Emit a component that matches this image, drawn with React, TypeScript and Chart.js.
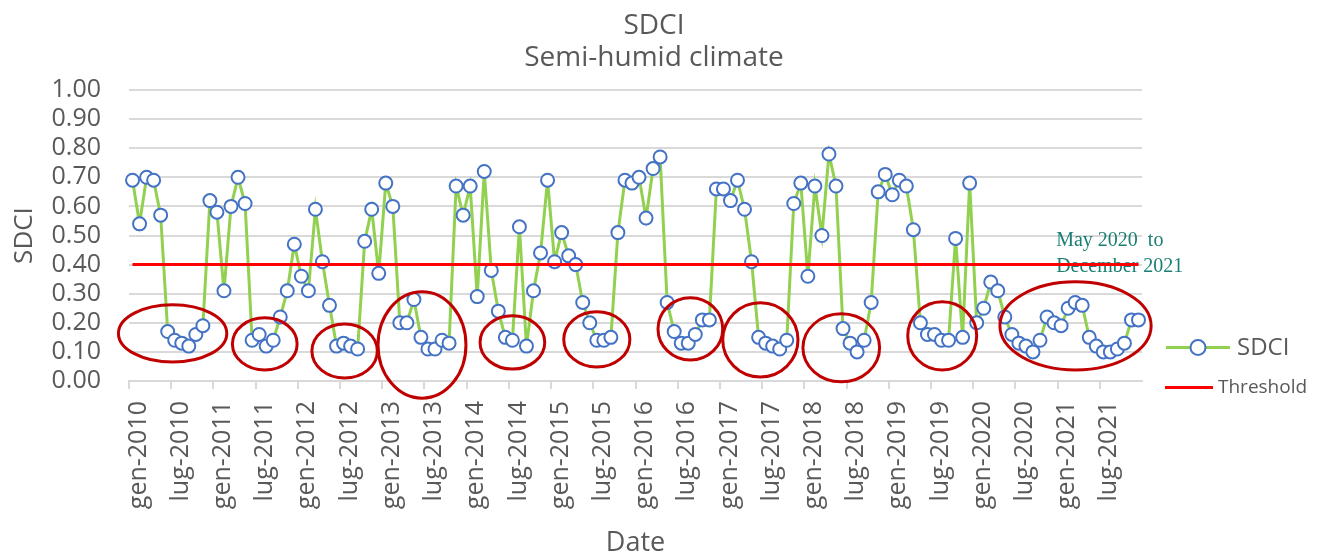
import React, { useEffect, useRef } from 'react';
import { Chart, registerables } from 'chart.js';

Chart.register(...registerables);

const FONT = "'Open Sans', sans-serif";
const TEXT_COLOR = '#595959';

const MONTHS = ['gen', 'feb', 'mar', 'apr', 'mag', 'giu', 'lug', 'ago', 'set', 'ott', 'nov', 'dic'];
const YEARS = [2010, 2011, 2012, 2013, 2014, 2015, 2016, 2017, 2018, 2019, 2020, 2021];
const categories: string[] = YEARS.flatMap((y) => MONTHS.map((m) => `${m}-${y}`));

const sdci2010 = [0.69, 0.54, 0.70, 0.69, 0.57, 0.17, 0.14, 0.13, 0.12, 0.16, 0.19, 0.62];
const sdci2011 = [0.58, 0.31, 0.60, 0.70, 0.61, 0.14, 0.16, 0.12, 0.14, 0.22, 0.31, 0.47];
const sdci2012 = [0.36, 0.31, 0.59, 0.41, 0.26, 0.12, 0.13, 0.12, 0.11, 0.48, 0.59, 0.37];
const sdci2013 = [0.68, 0.60, 0.20, 0.20, 0.28, 0.15, 0.11, 0.11, 0.14, 0.13, 0.67, 0.57];
const sdci2014 = [0.67, 0.29, 0.72, 0.38, 0.24, 0.15, 0.14, 0.53, 0.12, 0.31, 0.44, 0.69];
const sdci2015 = [0.41, 0.51, 0.43, 0.40, 0.27, 0.20, 0.14, 0.14, 0.15, 0.51, 0.69, 0.68];
const sdci2016 = [0.70, 0.56, 0.73, 0.77, 0.27, 0.17, 0.13, 0.13, 0.16, 0.21, 0.21, 0.66];
const sdci2017 = [0.66, 0.62, 0.69, 0.59, 0.41, 0.15, 0.13, 0.12, 0.11, 0.14, 0.61, 0.68];
const sdci2018 = [0.36, 0.67, 0.50, 0.78, 0.67, 0.18, 0.13, 0.10, 0.14, 0.27, 0.65, 0.71];
const sdci2019 = [0.64, 0.69, 0.67, 0.52, 0.20, 0.16, 0.16, 0.14, 0.14, 0.49, 0.15, 0.68];
const sdci2020 = [0.20, 0.25, 0.34, 0.31, 0.22, 0.16, 0.13, 0.12, 0.10, 0.14, 0.22, 0.20];
const sdci2021 = [0.19, 0.25, 0.27, 0.26, 0.15, 0.12, 0.10, 0.10, 0.11, 0.13, 0.21, 0.21];

const sdciValues = [
  ...sdci2010, ...sdci2011, ...sdci2012, ...sdci2013, ...sdci2014, ...sdci2015,
  ...sdci2016, ...sdci2017, ...sdci2018, ...sdci2019, ...sdci2020, ...sdci2021,
];

const THRESHOLD = 0.4;
const thresholdValues = categories.map(() => THRESHOLD);

const titleLines = ['SDCI', 'Semi-humid climate'];

// Highlighted drought periods (category index range, SDCI value range)
const highlightPeriods = [
  { from: -2.0, to: 13.4, low: 0.065, high: 0.262 },
  { from: 14.2, to: 23.4, low: 0.038, high: 0.217 },
  { from: 25.5, to: 34.8, low: 0.010, high: 0.196 },
  { from: 34.9, to: 47.4, low: -0.059, high: 0.307 },
  { from: 49.4, to: 58.6, low: 0.041, high: 0.224 },
  { from: 61.3, to: 70.7, low: 0.048, high: 0.238 },
  { from: 74.7, to: 83.9, low: 0.072, high: 0.286 },
  { from: 83.9, to: 94.6, low: 0.014, high: 0.269 },
  { from: 95.3, to: 106.2, low: -0.003, high: 0.231 },
  { from: 110.2, to: 120.0, low: 0.038, high: 0.272 },
  { from: 123.3, to: 144.8, low: 0.038, high: 0.341 },
];

const noteLines = ['May 2020  to', 'December 2021'];
const noteAnchor = { index: 131.3, value: 0.465 };

const titlePlugin = {
  id: 'twoLineTitle',
  afterDraw(chart: any) {
    const { ctx, width } = chart;
    ctx.save();
    ctx.font = `28px ${FONT}`;
    ctx.fillStyle = TEXT_COLOR;
    ctx.textAlign = 'center';
    ctx.textBaseline = 'middle';
    const cx = width / 2 - 7;
    titleLines.forEach((line, i) => ctx.fillText(line, cx, 26 + i * 32.5));
    ctx.restore();
  },
};

const notePlugin = {
  id: 'noteText',
  beforeDatasetsDraw(chart: any) {
    const { ctx, scales } = chart;
    const x = scales.x.getPixelForValue(noteAnchor.index);
    const y = scales.y.getPixelForValue(noteAnchor.value);
    ctx.save();
    ctx.font = "20px 'Liberation Serif', serif";
    ctx.fillStyle = '#1A7F72';
    ctx.textAlign = 'left';
    ctx.textBaseline = 'alphabetic';
    noteLines.forEach((line, i) => ctx.fillText(line, x, y + i * 26.7));
    ctx.restore();
  },
};

const ellipsePlugin = {
  id: 'highlightEllipses',
  afterDatasetsDraw(chart: any) {
    const { ctx, scales } = chart;
    ctx.save();
    ctx.strokeStyle = '#C00000';
    ctx.lineWidth = 3;
    highlightPeriods.forEach((p) => {
      const x1 = scales.x.getPixelForValue(p.from);
      const x2 = scales.x.getPixelForValue(p.to);
      const y1 = scales.y.getPixelForValue(p.high);
      const y2 = scales.y.getPixelForValue(p.low);
      ctx.beginPath();
      ctx.ellipse((x1 + x2) / 2, (y1 + y2) / 2, Math.abs(x2 - x1) / 2, Math.abs(y2 - y1) / 2, 0, 0, Math.PI * 2);
      ctx.stroke();
    });
    ctx.restore();
  },
};

const legendPlugin = {
  id: 'customLegend',
  afterDraw(chart: any) {
    const { ctx, chartArea } = chart;
    const left = chartArea.right + 23;
    const y1 = chartArea.bottom - 33.5;
    const y2 = chartArea.bottom + 6.5;
    ctx.save();
    // SDCI
    ctx.strokeStyle = '#92D050';
    ctx.lineWidth = 3;
    ctx.beginPath();
    ctx.moveTo(left + 1, y1);
    ctx.lineTo(left + 65, y1);
    ctx.stroke();
    ctx.beginPath();
    ctx.arc(left + 33, y1, 7.5, 0, Math.PI * 2);
    ctx.fillStyle = '#FFFFFF';
    ctx.fill();
    ctx.lineWidth = 2;
    ctx.strokeStyle = '#4472C4';
    ctx.stroke();
    ctx.fillStyle = TEXT_COLOR;
    ctx.textBaseline = 'middle';
    ctx.textAlign = 'left';
    ctx.font = `24px ${FONT}`;
    ctx.fillText('SDCI', left + 72, y1 + 1);
    // Threshold
    ctx.strokeStyle = '#FF0000';
    ctx.lineWidth = 3;
    ctx.beginPath();
    ctx.moveTo(left, y2);
    ctx.lineTo(left + 48, y2);
    ctx.stroke();
    ctx.font = `19px ${FONT}`;
    ctx.fillText('Threshold', left + 53, y2);
    ctx.restore();
  },
};

export default function App() {
  const ref = useRef<HTMLCanvasElement>(null);

  useEffect(() => {
    document.body.style.margin = '0';
    const canvas = ref.current;
    if (!canvas) return;
    const chart = new Chart(canvas, {
      type: 'line',
      data: {
        labels: categories,
        datasets: [
          {
            label: 'SDCI',
            data: sdciValues,
            borderColor: '#92D050',
            borderWidth: 3,
            pointRadius: 6.5,
            pointBorderWidth: 2,
            pointBorderColor: '#4472C4',
            pointBackgroundColor: '#FFFFFF',
            tension: 0,
            order: 1,
          },
          {
            label: 'Threshold',
            data: thresholdValues,
            borderColor: '#FF0000',
            borderWidth: 3,
            pointRadius: 0,
            tension: 0,
            order: 0,
          },
        ],
      },
      options: {
        responsive: false,
        animation: false,
        devicePixelRatio: 1,
        layout: { padding: { top: 90, right: 180, bottom: 0, left: 0 } },
        plugins: {
          legend: { display: false },
          tooltip: { enabled: false },
          title: { display: false },
        },
        scales: {
          x: {
            type: 'category',
            offset: true,
            grid: {
              offset: true,
              drawOnChartArea: false,
              drawTicks: true,
              tickLength: 8,
              lineWidth: 2,
              color: (c: any) => (c.index % 6 === 0 ? '#D9D9D9' : 'rgba(0,0,0,0)'),
            },
            border: { display: true, color: '#D9D9D9', width: 2 },
            ticks: {
              autoSkip: false,
              maxRotation: 90,
              minRotation: 90,
              padding: 12,
              labelOffset: 6,
              color: TEXT_COLOR,
              font: { family: FONT, size: 25 },
              callback: (_v: any, i: number) => (i % 6 === 0 ? categories[i] : ''),
            },
            title: {
              display: true,
              text: 'Date',
              color: TEXT_COLOR,
              font: { family: FONT, size: 27, lineHeight: 1.1 },
              padding: { top: 0, bottom: 0 },
            },
            afterFit: (s: any) => {
              s.height = 177;
            },
          },
          y: {
            min: 0,
            max: 1,
            ticks: {
              stepSize: 0.1,
              autoSkip: false,
              padding: 28,
              color: TEXT_COLOR,
              font: { family: FONT, size: 25 },
              callback: (v: any) => Number(v).toFixed(2),
            },
            grid: { color: '#D9D9D9', lineWidth: 2, drawTicks: false },
            border: { display: false },
            title: {
              display: true,
              text: 'SDCI',
              color: TEXT_COLOR,
              font: { family: FONT, size: 26, lineHeight: 1.2 },
              padding: { top: 9, bottom: 0 },
            },
            afterFit: (s: any) => {
              s.width = 129;
            },
          },
        },
      },
      plugins: [titlePlugin, notePlugin, ellipsePlugin, legendPlugin],
    } as any);
    return () => chart.destroy();
  }, []);

  return (
    <div style={{ width: 1322, height: 558 }}>
      <canvas ref={ref} width={1322} height={558} style={{ display: 'block' }} />
    </div>
  );
}
